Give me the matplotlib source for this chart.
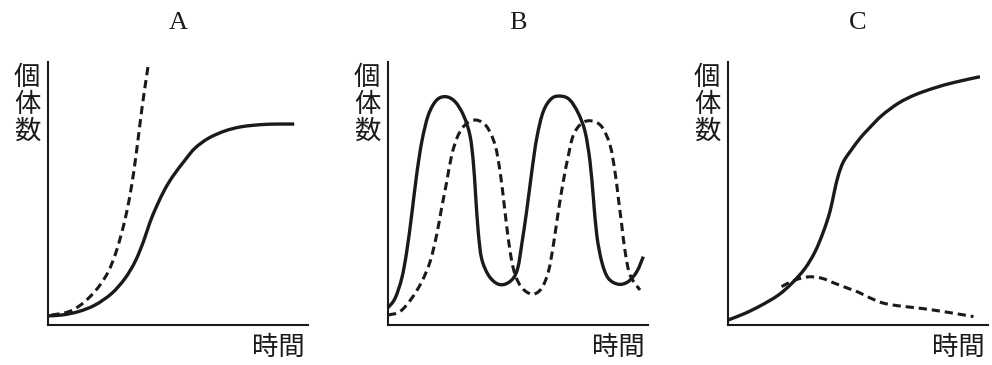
import matplotlib
matplotlib.use("Agg")
import matplotlib.pyplot as plt
from matplotlib.path import Path
from matplotlib.patches import PathPatch

# ---------------- data (normalised time / population, 0..1) ----------------
titles = ["A", "B", "C"]
ylabel_chars = ["個", "体", "数"]
xlabel = "時間"

a_solid_x = [0.0, 0.053, 0.117, 0.181, 0.245, 0.296, 0.335, 0.367, 0.392, 0.418, 0.45, 0.482,
             0.527, 0.565, 0.617, 0.681, 0.745, 0.822, 0.886, 0.947]
a_solid_y = [0.035, 0.038, 0.051, 0.076, 0.120, 0.177, 0.241, 0.317, 0.390, 0.452, 0.517, 0.568,
             0.627, 0.672, 0.710, 0.738, 0.754, 0.762, 0.764, 0.764]
a_dash_x = [0.013, 0.072, 0.117, 0.162, 0.2, 0.232, 0.258, 0.281, 0.303, 0.322, 0.337, 0.35, 0.363, 0.376, 0.386]
a_dash_y = [0.038, 0.048, 0.070, 0.108, 0.152, 0.203, 0.266, 0.342, 0.431, 0.532, 0.634, 0.735, 0.836, 0.925, 0.991]

b_solid_x = [0.0, 0.027, 0.053, 0.072, 0.091, 0.110, 0.130, 0.155, 0.187, 0.223, 0.258, 0.290, 0.315,
             0.328, 0.337, 0.347, 0.360, 0.386, 0.418, 0.45, 0.482, 0.50, 0.514, 0.533, 0.553, 0.572,
             0.597, 0.630, 0.668, 0.700, 0.732, 0.758, 0.777, 0.790, 0.803, 0.822, 0.847, 0.886,
             0.924, 0.957, 0.982]
b_solid_y = [0.066, 0.101, 0.178, 0.279, 0.418, 0.570, 0.697, 0.798, 0.855, 0.868, 0.849, 0.798, 0.722,
             0.621, 0.494, 0.355, 0.253, 0.190, 0.158, 0.155, 0.178, 0.220, 0.304, 0.431, 0.583, 0.710,
             0.811, 0.862, 0.870, 0.855, 0.805, 0.735, 0.621, 0.482, 0.342, 0.241, 0.178, 0.155,
             0.165, 0.203, 0.260]
b_dash_x = [0.0, 0.046, 0.091, 0.130, 0.162, 0.187, 0.206, 0.226, 0.245, 0.270, 0.303, 0.341, 0.380,
            0.412, 0.431, 0.444, 0.456, 0.469, 0.482, 0.501, 0.527, 0.559, 0.591, 0.617, 0.636, 0.655,
            0.674, 0.694, 0.713, 0.745, 0.783, 0.822, 0.854, 0.873, 0.886, 0.899, 0.912, 0.931, 0.969]
b_dash_y = [0.038, 0.051, 0.101, 0.165, 0.241, 0.342, 0.444, 0.545, 0.646, 0.722, 0.767, 0.779, 0.754,
            0.684, 0.583, 0.482, 0.380, 0.284, 0.215, 0.163, 0.130, 0.117, 0.140, 0.203, 0.304, 0.431,
            0.545, 0.646, 0.722, 0.767, 0.776, 0.754, 0.684, 0.583, 0.482, 0.380, 0.279, 0.190, 0.133]

c_solid_x = [0.0, 0.065, 0.130, 0.194, 0.245, 0.296, 0.335, 0.367, 0.392, 0.409, 0.424, 0.444, 0.476,
             0.508, 0.540, 0.591, 0.655, 0.719, 0.796, 0.873, 0.969]
c_solid_y = [0.019, 0.044, 0.076, 0.114, 0.158, 0.215, 0.279, 0.355, 0.431, 0.507, 0.568, 0.621, 0.668,
             0.710, 0.745, 0.796, 0.843, 0.875, 0.902, 0.923, 0.944]
c_dash_x = [0.206, 0.258, 0.309, 0.360, 0.412, 0.463, 0.501, 0.540, 0.591, 0.655, 0.745, 0.847, 0.944]
c_dash_y = [0.146, 0.171, 0.183, 0.178, 0.158, 0.139, 0.125, 0.106, 0.085, 0.073, 0.063, 0.048, 0.032]

series = [
    (a_solid_x, a_solid_y, a_dash_x, a_dash_y),
    (b_solid_x, b_solid_y, b_dash_x, b_dash_y),
    (c_solid_x, c_solid_y, c_dash_x, c_dash_y),
]


def smooth_path(xs, ys):
    """Smooth Bezier path through the read points (Catmull-Rom style)."""
    pts = list(zip(xs, ys))
    n = len(pts)
    verts = [pts[0]]
    codes = [Path.MOVETO]
    for i in range(n - 1):
        p0 = pts[i - 1] if i > 0 else pts[i]
        p1 = pts[i]
        p2 = pts[i + 1]
        p3 = pts[i + 2] if i + 2 < n else pts[i + 1]
        c1 = (p1[0] + (p2[0] - p0[0]) / 6, p1[1] + (p2[1] - p0[1]) / 6)
        c2 = (p2[0] - (p3[0] - p1[0]) / 6, p2[1] - (p3[1] - p1[1]) / 6)
        verts += [c1, c2, p2]
        codes += [Path.CURVE4] * 3
    return Path(verts, codes)


# ---------------- layout ----------------
W, H = 992, 365
fig = plt.figure(figsize=(W / 100, H / 100), dpi=100)
axis_left_px = [48, 388, 728]
ax_w, ax_top, ax_bot = 260, 62, 325

cjk = ["Noto Sans CJK JP", "DejaVu Sans"]
serif = ["Liberation Serif", "DejaVu Serif"]
ink = "#1a1a1a"

for i, (sx, sy, dx, dy) in enumerate(series):
    L = axis_left_px[i]
    ax = fig.add_axes([L / W, (H - ax_bot) / H, ax_w / W, (ax_bot - ax_top) / H])
    ax.set_xlim(0, 1)
    ax.set_ylim(0, 1)
    for s in ["top", "right"]:
        ax.spines[s].set_visible(False)
    for s in ["left", "bottom"]:
        ax.spines[s].set_linewidth(1.5)
        ax.spines[s].set_color(ink)
    ax.set_xticks([])
    ax.set_yticks([])
    ax.add_patch(PathPatch(smooth_path(dx, dy), facecolor="none", edgecolor=ink, lw=2.2,
                           ls=(0, (2.7, 1.6)), capstyle="butt", joinstyle="round",
                           clip_on=False, transform=ax.transData))
    ax.add_patch(PathPatch(smooth_path(sx, sy), facecolor="none", edgecolor=ink, lw=2.4,
                           capstyle="butt", joinstyle="round", clip_on=False,
                           transform=ax.transData))

    # title
    fig.text((L + 130) / W, 1 - 23 / H, titles[i], ha="center", va="center",
             fontsize=19, family=serif, color=ink)
    # vertical y label
    for k, ch in enumerate(ylabel_chars):
        fig.text((L - 21) / W, 1 - (77 + 27 * k) / H, ch, ha="center", va="center",
                 fontsize=19, family=cjk, color=ink)
    # x label
    fig.text((L + ax_w - 3) / W, 1 - 347 / H, xlabel, ha="right", va="center",
             fontsize=19, family=cjk, color=ink)

fig.savefig("out.png", dpi=100)
